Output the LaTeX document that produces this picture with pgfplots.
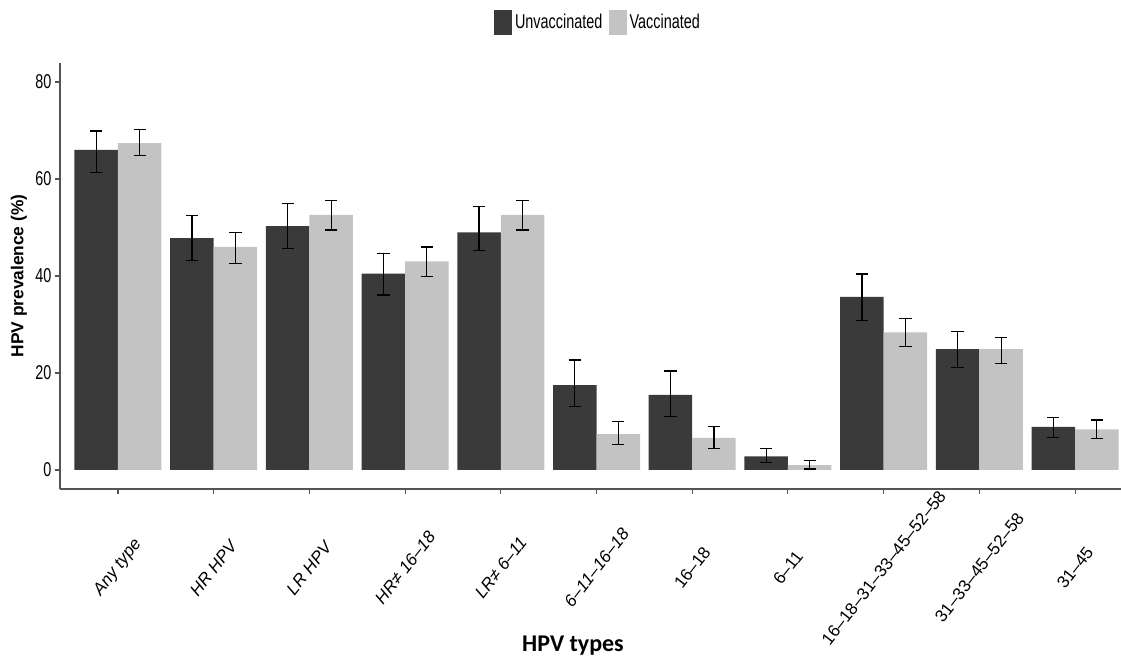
\documentclass[border=0pt]{standalone}
\usepackage{fontspec}
\setmainfont{Liberation Sans}
\newfontfamily\narrow[FakeStretch=0.72]{Liberation Sans}
\newfontfamily\carlito{Carlito}
\usepackage{pgfplots}
\pgfplotsset{compat=1.18}
\usepackage{pgfplotstable}

\definecolor{unvac}{RGB}{58,58,58}
\definecolor{vac}{RGB}{195,195,195}
\definecolor{axgray}{RGB}{85,85,85}

% x, prevalence, upper err, lower err
\pgfplotstableread{
x y ep em
0  66.0 3.9 4.7
1  47.8 4.7 4.6
2  50.3 4.7 4.6
3  40.5 4.2 4.4
4  49.0 5.3 3.8
5  17.5 5.2 4.4
6  15.5 4.9 4.4
7   2.8 1.7 1.3
8  35.7 4.7 4.9
9  24.9 3.6 3.7
10  8.9 1.9 2.2
}\unvacc
\pgfplotstableread{
x y ep em
0  67.4 2.8 2.6
1  46.0 3.0 3.4
2  52.6 2.9 3.1
3  43.0 3.0 3.1
4  52.6 2.9 3.1
5   7.4 2.6 2.1
6   6.6 2.4 2.1
7   1.0 1.0 0.8
8  28.4 2.9 3.0
9  24.9 2.4 3.0
10  8.4 1.9 1.9
}\vacc

\begin{document}
\begin{tikzpicture}
\begin{axis}[
    at={(0pt,0pt)}, anchor=south west,
    scale only axis,
    width=795.75pt, height=319.5pt,
    xmin=-0.606, xmax=10.48,
    ymin=-3.92, ymax=83.92,
    ybar=0pt, bar width=0.4545,
    axis lines*=left,
    axis line style={axgray, line width=1pt, -},
    tick align=outside,
    major tick length=4pt,
    tick style={axgray, line width=0.8pt},
    xtick={0,...,10},
    xticklabels={
      \textit{Any type}, \textit{HR HPV}, \textit{LR HPV},
      \textit{HR≠ 16–18}, \textit{LR≠ 6–11}, \textit{6–11–16–18},
      16–18, 6–11, 16–18–31–33–45–52–58, 31–33–45–52–58, 31–45},
    xticklabel style={font=\fontsize{12.8}{14}\selectfont, anchor=center, rotate=52},
    xticklabel shift=55pt,
    ytick={0,20,40,60,80},
    yticklabel style={font=\narrow\fontsize{15}{17}\selectfont, xshift=1pt},
    /pgf/number format/assume math mode=true,
    ylabel={\bfseries HPV prevalence (\%)},
    ylabel style={font=\fontsize{13}{15}\selectfont, at={(axis description cs:-0.0388,0.5)}, anchor=center},
    xlabel={\carlito\bfseries HPV types},
    xlabel style={font=\fontsize{18}{20}\selectfont, at={(axis description cs:0.4835,0)}, anchor=base, yshift=-122pt},
    legend style={draw=none, fill=none, legend columns=2,
      at={(axis description cs:0.5075,1.096)}, anchor=center,
      font=\narrow\fontsize{15}{17}\selectfont,
      /tikz/every even column/.append style={column sep=3pt}},
    legend image code/.code={\fill[#1] (0pt,-9.4pt) rectangle (13.5pt,9.4pt);},
    error bars/y dir=both,
    error bars/y explicit,
    error bars/error bar style={black, line width=0.9pt},
    error bars/error mark options={black, line width=0.9pt, mark size=4.6pt, rotate=90},
]
\addplot[fill=unvac, draw=none] table[x=x, y=y, y error plus=ep, y error minus=em]{\unvacc};
\addplot[fill=vac, draw=none] table[x=x, y=y, y error plus=ep, y error minus=em]{\vacc};
\legend{Unvaccinated, Vaccinated}
\end{axis}
\pgfresetboundingbox
\path (-45pt,-126pt) rectangle (795.75pt,366.75pt);
\end{tikzpicture}
\end{document}
